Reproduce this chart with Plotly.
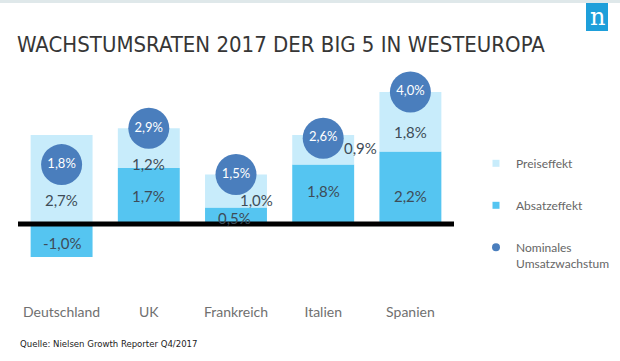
import plotly.graph_objects as go

# ---- data ----
countries = ["Deutschland", "UK", "Frankreich", "Italien", "Spanien"]
absatz = [-1.0, 1.7, 0.5, 1.8, 2.2]      # Absatzeffekt
preis = [2.7, 1.2, 1.0, 0.9, 1.8]        # Preiseffekt
nominal = [1.8, 2.9, 1.5, 2.6, 4.0]      # Nominales Umsatzwachstum
title_text = "WACHSTUMSRATEN 2017 DER BIG 5 IN WESTEUROPA"
source_text = "Quelle: Nielsen Growth Reporter Q4/2017"

# ---- styles ----
C_PREIS = "#c8ecfb"
C_ABSATZ = "#55c5f1"
C_NOMINAL = "#4a7ebd"
C_LABEL = "#3e4c58"
NARROW = "DejaVu Sans Condensed, Liberation Sans Narrow, Roboto Condensed, Roboto, sans-serif"

W, H = 620, 361
ML, MR, MT, MB = 18, 166, 70, 63
PW, PH = W - ML - MR, H - MT - MB
ZERO_PX, PX_PER_PCT = 224, 33.0
y_top = (ZERO_PX - MT) / PX_PER_PCT
y_bot = -((H - MB) - ZERO_PX) / PX_PER_PCT


def px2x(px):
    return (px - ML) / PW


def py2y(py):
    return ((H - MB) - py) / PH


def fmt(v):
    return f"{v:.1f}".replace(".", ",") + "%"


fig = go.Figure()
fig.add_trace(go.Bar(x=countries, y=absatz, name="Absatzeffekt",
                     marker=dict(color=C_ABSATZ, line=dict(width=0)),
                     showlegend=False, hoverinfo="skip"))
fig.add_trace(go.Bar(x=countries, y=preis, name="Preiseffekt",
                     marker=dict(color=C_PREIS, line=dict(width=0)),
                     showlegend=False, hoverinfo="skip"))
fig.add_trace(go.Scatter(x=countries, y=nominal, mode="markers+text",
                         name="Nominales Umsatzwachstum",
                         marker=dict(color=C_NOMINAL, size=41, line=dict(width=0)),
                         text=[fmt(v) for v in nominal], textposition="middle center",
                         textfont=dict(family="Lato", size=13, color="white"),
                         showlegend=False, hoverinfo="skip"))

# legend entries (small symbols like the reference)
leg_items = [("Preiseffekt", C_PREIS, "square", 7),
             ("Absatzeffekt", C_ABSATZ, "square", 7),
             ("Nominales<br>Umsatzwachstum", C_NOMINAL, "circle", 8)]
for i, (nm, col, sym, sz) in enumerate(leg_items):
    fig.add_trace(go.Scatter(x=[None], y=[None], mode="markers", name=nm,
                             legendgroup=f"g{i}", legendrank=i + 1,
                             marker=dict(color=col, symbol=sym, size=sz)))

# segment labels: fraction of segment where label sits, and x shift (category units)
absatz_frac = [0.58, 0.5, 0.36, 0.56, 0.39]
preis_frac = [0.27, 0.1, 0.23, 0.56, 0.33]
absatz_dx = [0, 0, -0.02, 0, 0]
preis_dx = [0, 0, 0.23, 0.43, 0]

annotations = []
for i, c in enumerate(countries):
    base = max(absatz[i], 0)
    annotations.append(dict(x=i + absatz_dx[i], y=absatz[i] * absatz_frac[i], xref="x", yref="y",
                            text=fmt(absatz[i]), showarrow=False,
                            font=dict(family="Lato", size=15, color=C_LABEL)))
    annotations.append(dict(x=i + preis_dx[i], y=base + preis[i] * preis_frac[i], xref="x", yref="y",
                            text=fmt(preis[i]), showarrow=False,
                            font=dict(family="Lato", size=15, color=C_LABEL)))

annotations.append(dict(x=px2x(18), y=py2y(343), xref="paper", yref="paper",
                        xanchor="left", yanchor="middle", text=source_text, showarrow=False,
                        font=dict(family=NARROW, size=9.5, color="#222222")))
annotations.append(dict(x=px2x(597), y=py2y(17), xref="paper", yref="paper",
                        xanchor="center", yanchor="middle", text="n", showarrow=False,
                        font=dict(family="DejaVu Serif", size=24, color="white")))

shapes = [
    dict(type="line", xref="paper", yref="y", x0=0, x1=1, y0=0, y1=0,
         line=dict(color="black", width=5), layer="above"),
    dict(type="rect", xref="paper", yref="paper", x0=px2x(586), x1=px2x(608),
         y0=py2y(31), y1=py2y(3), fillcolor="#1e9fda", line=dict(width=0), layer="above"),
    dict(type="rect", xref="paper", yref="paper", x0=px2x(0), x1=px2x(620),
         y0=py2y(3), y1=py2y(0), fillcolor="#dfe8ea", line=dict(width=0), layer="above"),
]

fig.update_layout(
    width=W, height=H,
    margin=dict(l=ML, r=MR, t=MT, b=MB, pad=0, autoexpand=False),
    paper_bgcolor="white", plot_bgcolor="white",
    barmode="relative", bargap=0.29,
    title=dict(text=title_text, xref="container", yref="container",
               x=17 / W, xanchor="left", y=1 - 44 / H, yanchor="middle",
               font=dict(family=NARROW, size=22, color="#363636")),
    xaxis=dict(showgrid=False, zeroline=False, showline=False, ticks="",
               tickfont=dict(family="Lato", size=14, color="#707070"),
               ticklabelstandoff=4, range=[-0.5, 4.5]),
    yaxis=dict(range=[y_bot, y_top], showgrid=False, zeroline=False,
               showline=False, showticklabels=False, ticks=""),
    legend=dict(x=px2x(476), y=py2y(149), xanchor="left", yanchor="top",
                traceorder="grouped", tracegroupgap=23, itemwidth=30, valign="top",
                font=dict(family="Lato", size=12, color="#666666"),
                bgcolor="rgba(0,0,0,0)"),
    annotations=annotations, shapes=shapes,
    showlegend=True,
)

fig.write_html("out.html", config={"displayModeBar": False},
               post_script="document.body.style.margin='0';document.body.style.padding='0';")
